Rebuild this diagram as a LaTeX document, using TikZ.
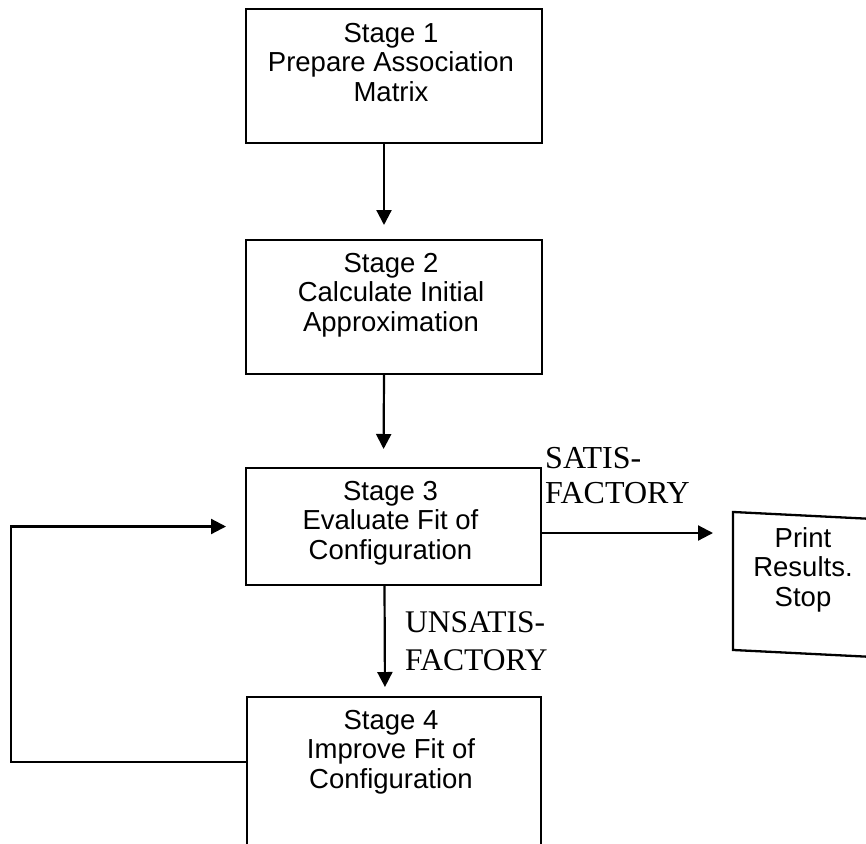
\documentclass[tikz,border=0pt]{standalone}
\usepackage{fontspec}
\setmainfont{Liberation Serif}
\setsansfont{Liberation Sans}
\usetikzlibrary{arrows.meta}
\begin{document}
\begin{tikzpicture}[x=1pt,y=-1pt,
  box/.style={draw, line width=2.3pt, minimum width=296pt, inner sep=0pt, outer sep=0pt},
  boxtext/.style={anchor=north, align=center, font=\sffamily\fontsize{27.5}{29.5}\selectfont, inner sep=0pt},
  flow/.style={line width=2.2pt, -{Triangle[length=15pt,width=15pt]}},
  verdict/.style={align=left, font=\rmfamily\fontsize{32}{35}\selectfont, inner sep=0pt, anchor=north west}]
\clip (0,0) rectangle (866,843);
\fill[white] (0,0) rectangle (866,843);

% stage boxes
\node[box, minimum height=134pt] (s1) at (394,76) {};
\node[box, minimum height=134pt] (s2) at (394,307) {};
\node[box, minimum width=295pt, minimum height=117pt] (s3) at (393.5,526.5) {};
\node[box, minimum width=294pt, minimum height=170pt] (s4) at (394,782) {};

% stage captions, set near the top of each box
\node[boxtext] (t1) at ([xshift=-3pt,yshift=-14pt]s1.north) {Stage 1\\Prepare Association\\Matrix};
\node[boxtext] (t2) at ([xshift=-3pt,yshift=-13pt]s2.north) {Stage 2\\Calculate Initial\\Approximation};
\node[boxtext] (t3) at ([xshift=-3pt,yshift=-13pt]s3.north) {Stage 3\\Evaluate Fit of\\Configuration};
\node[boxtext] (t4) at ([xshift=-3pt,yshift=-13pt]s4.north) {Stage 4\\Improve Fit of\\Configuration};

% output box, slightly skewed
\node[draw, line width=2.3pt, minimum width=145pt, minimum height=138pt, inner sep=0pt, outer sep=0pt, yslant=-0.05] (printbox) at (805.5,584.6) {};
\node[boxtext] (ptext) at ([xshift=-2.5pt,yshift=-11.5pt]printbox.north) {Print\\Results.\\Stop};

% flow arrows
\draw[flow, shorten >=15pt] ([xshift=-10pt]s1.south) -- ([xshift=-10pt]s2.north);
\draw[flow, shorten >=19pt] ([xshift=-10pt]s2.south) -- ([xshift=-10pt]s3.north);
\draw[flow, shorten >=10pt] ([xshift=-9pt]s3.south) -- ([xshift=-9pt]s4.north);
\draw[flow, shorten >=20pt] ([yshift=-6.5pt]s3.east) -- ([yshift=-6.5pt]s3.east -| printbox.west);
\draw[flow, shorten >=20pt] ([yshift=-65pt]s4.north west) -| ([xshift=-235pt]s3.west) -- (s3.west);

% branch labels
\node[verdict] (sat) at (545,447) {SATIS-\\FACTORY};
\node[verdict, font=\rmfamily\fontsize{31.5}{38}\selectfont] (unsat) at (405,611.5) {UNSATIS-\\FACTORY};
\end{tikzpicture}
\end{document}
